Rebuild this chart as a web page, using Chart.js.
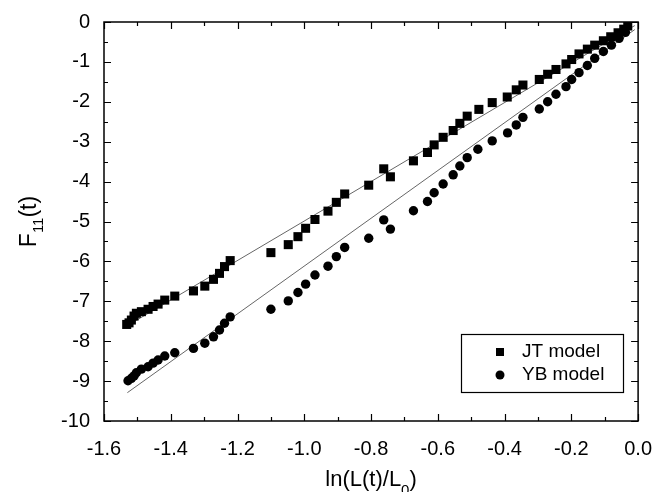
<!DOCTYPE html>
<html><head><meta charset="utf-8">
<script src="https://cdn.jsdelivr.net/npm/chart.js@4/dist/chart.umd.min.js"></script>
<style>html,body{margin:0;padding:0;background:#fff}</style>
</head><body>
<canvas id="c" width="660" height="492"></canvas>
<script>
// ---- data ----
const jtX = [-1.532,-1.525,-1.518,-1.510,-1.503,-1.488,-1.468,-1.453,-1.438,-1.418,-1.388,-1.332,-1.298,-1.272,-1.254,-1.239,-1.222,-1.100,-1.048,-1.019,-0.996,-0.968,-0.929,-0.904,-0.879,-0.807,-0.762,-0.742,-0.673,-0.631,-0.611,-0.584,-0.554,-0.534,-0.512,-0.477,-0.437,-0.392,-0.365,-0.345,-0.296,-0.271,-0.246,-0.216,-0.199,-0.177,-0.152,-0.130,-0.104,-0.082,-0.060,-0.043,-0.031];
const jtY = [-7.58,-7.54,-7.47,-7.37,-7.30,-7.26,-7.20,-7.13,-7.07,-6.97,-6.87,-6.74,-6.62,-6.45,-6.30,-6.13,-5.98,-5.78,-5.58,-5.38,-5.17,-4.95,-4.74,-4.52,-4.31,-4.09,-3.68,-3.88,-3.48,-3.27,-3.08,-2.89,-2.72,-2.54,-2.36,-2.19,-2.02,-1.88,-1.70,-1.58,-1.44,-1.31,-1.19,-1.05,-0.94,-0.80,-0.68,-0.58,-0.47,-0.37,-0.27,-0.18,-0.10];
const ybX = [-1.528,-1.518,-1.510,-1.503,-1.488,-1.468,-1.453,-1.438,-1.418,-1.388,-1.332,-1.298,-1.272,-1.254,-1.239,-1.222,-1.100,-1.048,-1.019,-0.996,-0.968,-0.929,-0.904,-0.879,-0.807,-0.762,-0.742,-0.673,-0.631,-0.611,-0.584,-0.554,-0.534,-0.512,-0.480,-0.437,-0.391,-0.365,-0.345,-0.296,-0.271,-0.246,-0.216,-0.199,-0.177,-0.152,-0.130,-0.104,-0.080,-0.057,-0.038];
const ybY = [-8.99,-8.93,-8.87,-8.79,-8.70,-8.64,-8.55,-8.47,-8.37,-8.29,-8.18,-8.05,-7.89,-7.72,-7.55,-7.39,-7.20,-6.99,-6.78,-6.57,-6.34,-6.12,-5.88,-5.65,-5.42,-4.96,-5.19,-4.73,-4.50,-4.28,-4.06,-3.83,-3.61,-3.40,-3.19,-2.98,-2.78,-2.58,-2.39,-2.18,-2.00,-1.81,-1.62,-1.44,-1.27,-1.09,-0.91,-0.74,-0.58,-0.41,-0.26];
const fitX  = [-1.53, -0.01];
const fitJT = [-7.61, -0.09];
const fitYB = [-9.29, -0.19];
const seriesNames = ['JT model', 'YB model'];
const xTickValues = [-1.6,-1.4,-1.2,-1.0,-0.8,-0.6,-0.4,-0.2,0.0];
const xTickLabels = ['-1.6','-1.4','-1.2','-1.0','-0.8','-0.6','-0.4','-0.2','0.0'];
const yTickValues = [-10,-9,-8,-7,-6,-5,-4,-3,-2,-1,0];
const yTickLabels = ['-10','-9','-8','-7','-6','-5','-4','-3','-2','-1','0'];

const FONT = '"Liberation Sans", Arial, sans-serif';
const pts = (xs, ys) => xs.map((x, i) => ({x, y: ys[i]}));

const framePlugin = {
  id: 'frame',
  afterDatasetsDraw(chart) {
    const {ctx, chartArea: a, scales: {x, y}} = chart;
    ctx.save();
    ctx.strokeStyle = '#000';
    ctx.lineWidth = 1.5;
    ctx.strokeRect(a.left, a.top, a.right - a.left, a.bottom - a.top);
    ctx.lineWidth = 1.2;
    ctx.beginPath();
    for (let i = 0; i < xTickValues.length; i++) {
      const px = Math.round(x.getPixelForValue(xTickValues[i])) + 0.5;
      ctx.moveTo(px, a.bottom); ctx.lineTo(px, a.bottom - 7);
      ctx.moveTo(px, a.top); ctx.lineTo(px, a.top + 7);
      if (i < xTickValues.length - 1) {
        const pm = Math.round(x.getPixelForValue((xTickValues[i] + xTickValues[i+1]) / 2)) + 0.5;
        ctx.moveTo(pm, a.bottom); ctx.lineTo(pm, a.bottom - 4);
        ctx.moveTo(pm, a.top); ctx.lineTo(pm, a.top + 4);
      }
    }
    for (let i = 0; i < yTickValues.length; i++) {
      const py = Math.round(y.getPixelForValue(yTickValues[i])) + 0.5;
      ctx.moveTo(a.left, py); ctx.lineTo(a.left + 7, py);
      ctx.moveTo(a.right, py); ctx.lineTo(a.right - 7, py);
      if (i < yTickValues.length - 1) {
        const pm = Math.round(y.getPixelForValue((yTickValues[i] + yTickValues[i+1]) / 2)) + 0.5;
        ctx.moveTo(a.left, pm); ctx.lineTo(a.left + 4, pm);
        ctx.moveTo(a.right, pm); ctx.lineTo(a.right - 4, pm);
      }
    }
    ctx.stroke();
    ctx.restore();
  },
  afterDraw(chart) {
    const {ctx, chartArea: a} = chart;
    ctx.save();
    // legend box
    const lx = 461, ly = 334, lw = 162, lh = 58;
    ctx.fillStyle = '#fff';
    ctx.fillRect(lx, ly, lw, lh);
    ctx.strokeStyle = '#000';
    ctx.lineWidth = 1.2;
    ctx.strokeRect(lx + 0.5, ly + 0.5, lw, lh);
    ctx.fillStyle = '#000';
    ctx.fillRect(496, 348, 8, 8);
    ctx.beginPath(); ctx.arc(500, 375, 4.5, 0, Math.PI * 2); ctx.fill();
    ctx.font = '19px ' + FONT;
    ctx.textAlign = 'left'; ctx.textBaseline = 'middle';
    ctx.fillText(seriesNames[0], 522, 352);
    ctx.fillText(seriesNames[1], 522, 375);
    // x title with subscript
    const cx = (a.left + a.right) / 2;
    const main = 'ln(L(t)/L', sub = '0', tail = ')';
    ctx.font = '22px ' + FONT;
    const w1 = ctx.measureText(main).width, w3 = ctx.measureText(tail).width;
    ctx.font = '15px ' + FONT;
    const w2 = ctx.measureText(sub).width;
    let sx = cx - (w1 + w2 + w3) / 2;
    ctx.textBaseline = 'alphabetic';
    ctx.font = '22px ' + FONT; ctx.fillText(main, sx, 486);
    ctx.font = '15px ' + FONT; ctx.fillText(sub, sx + w1, 495);
    ctx.font = '22px ' + FONT; ctx.fillText(tail, sx + w1 + w2, 486);
    // y title with subscript (rotated)
    const cy = (a.top + a.bottom) / 2;
    ctx.translate(36, cy);
    ctx.rotate(-Math.PI / 2);
    const m = 'F', s = '11', t = '(t)';
    ctx.font = '23px ' + FONT;
    const v1 = ctx.measureText(m).width, v3 = ctx.measureText(t).width;
    ctx.font = '15px ' + FONT;
    const v2 = ctx.measureText(s).width;
    let tx = -(v1 + v2 + v3) / 2;
    ctx.font = '23px ' + FONT; ctx.fillText(m, tx, 0);
    ctx.font = '15px ' + FONT; ctx.fillText(s, tx + v1, 7);
    ctx.font = '23px ' + FONT; ctx.fillText(t, tx + v1 + v2, 0);
    ctx.restore();
  }
};

new Chart(document.getElementById('c'), {
  type: 'scatter',
  data: {
    datasets: [
      { label: seriesNames[0], data: pts(jtX, jtY), pointStyle: 'rect', pointRadius: 6.4, pointBorderWidth: 0, backgroundColor: '#000', borderColor: '#000' },
      { label: seriesNames[1], data: pts(ybX, ybY), pointStyle: 'circle', pointRadius: 4.7, pointBorderWidth: 0, backgroundColor: '#000', borderColor: '#000' },
      { label: 'fit JT', data: pts(fitX, fitJT), showLine: true, pointRadius: 0, borderColor: '#666', borderWidth: 1 },
      { label: 'fit YB', data: pts(fitX, fitYB), showLine: true, pointRadius: 0, borderColor: '#666', borderWidth: 1 }
    ]
  },
  options: {
    responsive: false, animation: false,
    layout: { padding: { top: 22, right: 19, left: 0, bottom: 0 } },
    plugins: { legend: { display: false }, tooltip: { enabled: false } },
    scales: {
      x: {
        type: 'linear', min: -1.6, max: 0,
        afterBuildTicks: sc => { sc.ticks = xTickValues.map(v => ({value: v})); },
        afterFit: sc => { sc.height = 71; },
        grid: { display: false }, border: { display: false },
        ticks: { color: '#000', padding: 8, maxRotation: 0, font: { family: FONT, size: 20 },
          callback: (v, i) => xTickLabels[i] }
      },
      y: {
        type: 'linear', min: -10, max: 0,
        afterBuildTicks: sc => { sc.ticks = yTickValues.map(v => ({value: v})); },
        afterFit: sc => { sc.width = 104; },
        grid: { display: false }, border: { display: false },
        ticks: { color: '#000', padding: 6, font: { family: FONT, size: 20 },
          callback: (v, i) => yTickLabels[i] }
      }
    }
  },
  plugins: [framePlugin]
});
</script>
</body></html>
